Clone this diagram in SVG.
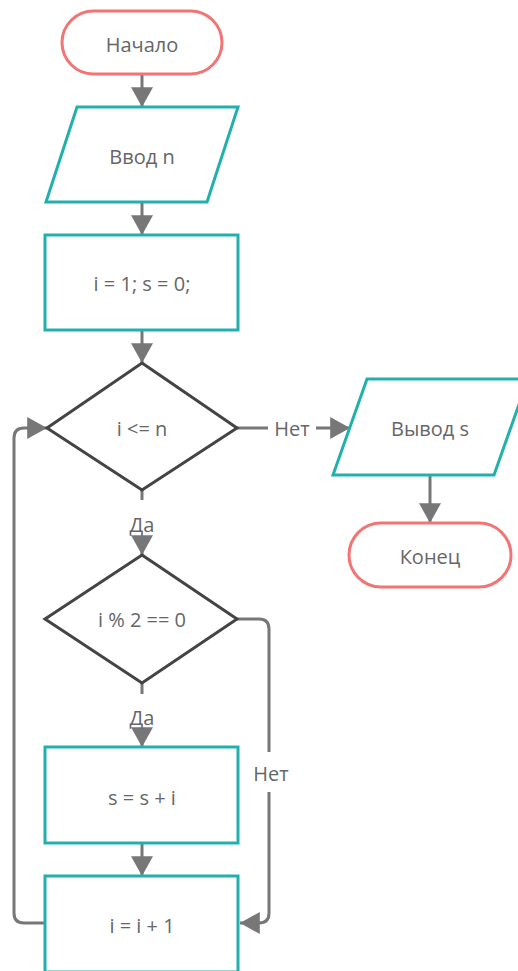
<svg xmlns="http://www.w3.org/2000/svg" width="518" height="971" viewBox="0 0 518 971">
<defs>
<marker id="arr" markerUnits="userSpaceOnUse" markerWidth="22" markerHeight="22" viewBox="0 0 20 20" refX="18" refY="10" orient="auto">
<path d="M0,0 L18,10 L0,20 Z" fill="#777"/>
</marker>
</defs>
<style>
.term{fill:#fff;stroke:#f27474;stroke-width:3}
.io{fill:#fff;stroke:#22b0ad;stroke-width:3}
.proc{fill:#fff;stroke:#22b0ad;stroke-width:3}
.dec{fill:#fff;stroke:#444;stroke-width:3}
.c{fill:none;stroke:#777;stroke-width:3}
text{font-family:"Open Sans","Noto Sans",sans-serif;font-size:20px;fill:#666;text-anchor:middle;dominant-baseline:central}
</style>
<rect width="518" height="971" fill="#fff"/>
<g id="connectors">
<path class="c" d="M142,74 V107" marker-end="url(#arr)"/>
<path class="c" d="M142,202 V235" marker-end="url(#arr)"/>
<path class="c" d="M142,330 V363" marker-end="url(#arr)"/>
<path class="c" d="M237,428 H268"/>
<path class="c" d="M316,428 H350" marker-end="url(#arr)"/>
<path class="c" d="M430,475 V523" marker-end="url(#arr)"/>
<path class="c" d="M142,490 V500"/>
<path class="c" d="M142,542 V555" marker-end="url(#arr)"/>
<path class="c" d="M142,683 V694"/>
<path class="c" d="M142,736 V747" marker-end="url(#arr)"/>
<path class="c" d="M237,619 H259 Q269,619 269,629 V752"/>
<path class="c" d="M269,792 V913 Q269,923 259,923 H240" marker-end="url(#arr)"/>
<path class="c" d="M142,843 V876" marker-end="url(#arr)"/>
<path class="c" d="M45,923 H24 Q14,923 14,913 V438 Q14,428 24,428 H47" marker-end="url(#arr)"/>
<text x="292" y="428">Нет</text>
<text x="142" y="524">Да</text>
<text x="142" y="717">Да</text>
<text x="271" y="773">Нет</text>
</g>
<g id="start">
<rect class="term" x="62" y="11" width="160" height="63" rx="31.5"/>
<text x="142" y="44">Начало</text>
</g>
<g id="input">
<polygon class="io" points="77,107 238,107 207,202 46,202"/>
<text x="142" y="156">Ввод n</text>
</g>
<g id="init">
<rect class="proc" x="45" y="235" width="193" height="95"/>
<text x="142" y="283">i = 1; s = 0;</text>
</g>
<g id="cond1">
<polygon class="dec" points="142,363 237,428 142,490 47,428"/>
<text x="142" y="428">i &lt;= n</text>
</g>
<g id="output">
<polygon class="io" points="367,379 528,379 494,475 333,475"/>
<text x="430" y="428">Вывод s</text>
</g>
<g id="end">
<rect class="term" x="349" y="523" width="162" height="64" rx="32"/>
<text x="430" y="556">Конец</text>
</g>
<g id="cond2">
<polygon class="dec" points="142,555 237,619 142,683 45,619"/>
<text x="142" y="619">i % 2 == 0</text>
</g>
<g id="sum">
<rect class="proc" x="45" y="747" width="193" height="96"/>
<text x="142" y="797">s = s + i</text>
</g>
<g id="inc">
<rect class="proc" x="45" y="876" width="193" height="96"/>
<text x="142" y="925">i = i + 1</text>
</g>
</svg>
